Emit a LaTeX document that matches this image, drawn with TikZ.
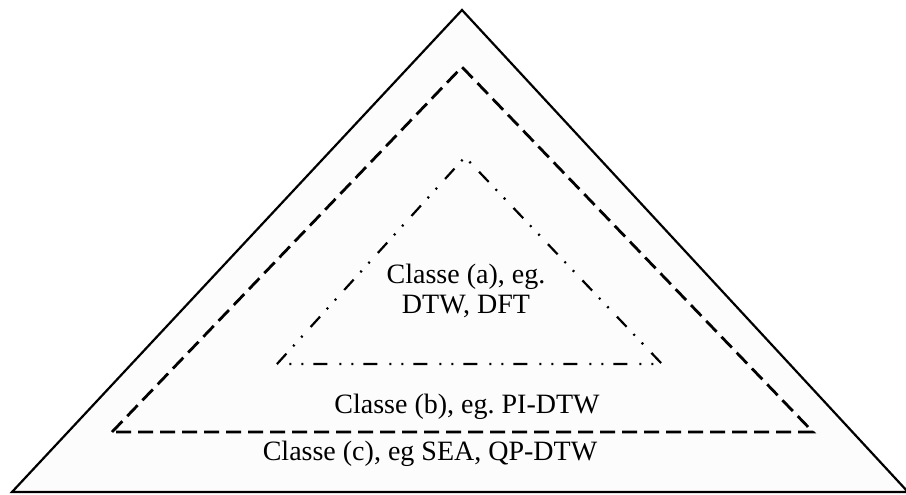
\documentclass[tikz,border=0pt]{standalone}
\usepackage{fontspec}
\setmainfont{Liberation Serif}
\usetikzlibrary{calc}
\colorlet{trbg}{white!99!black}
\tikzset{lvlc/.style={
  line width=1.1pt,
  line join=miter
}}
\tikzset{lvlb/.style={
  line width=1.4pt,
  dash pattern=on 7.5pt off 3.5pt
}}
\tikzset{lvla/.style={
  line width=1.1pt,
  dash pattern=on 7pt off 5pt on 1pt off 5pt on 1pt off 6pt
}}
\tikzset{lbl/.style={
  font=\fontsize{14}{15}\selectfont,
  align=center,
  inner sep=0pt
}}
\frenchspacing

\begin{document}
\begin{tikzpicture}[x=0.5pt,y=-0.5pt]
    \useasboundingbox (0,0) rectangle (906,494);
    \coordinate (Ctop) at (462,10);
    \coordinate (Cl) at (12,492);
    \coordinate (Cr) at (908,492);
    \coordinate (Btop) at (462,67);
    \coordinate (Bl) at (112,432);
    \coordinate (Br) at (813,432);
    \coordinate (Atop) at (465,157);
    \coordinate (Al) at (277,364);
    \coordinate (Ar) at (662,364);
    \fill[trbg] (Cl) -- (Ctop) -- (Cr) -- cycle;
    \draw[lvlc] (Cl) -- (Ctop) -- (Cr) -- cycle;
    \draw[lvlb] (Bl) -- (Btop) -- (Br) -- cycle;
    \draw[lvla] (Al) -- (Atop) -- (Ar) -- cycle;
    \node[lbl] (A) at (466,291) {Classe (a), eg.\\DTW, DFT};
    \node[lbl] (B) at (467,407) {Classe (b), eg. PI-DTW};
    \node[lbl] (C) at (430,454) {Classe (c), eg SEA, QP-DTW};
  \end{tikzpicture}
\end{document}
